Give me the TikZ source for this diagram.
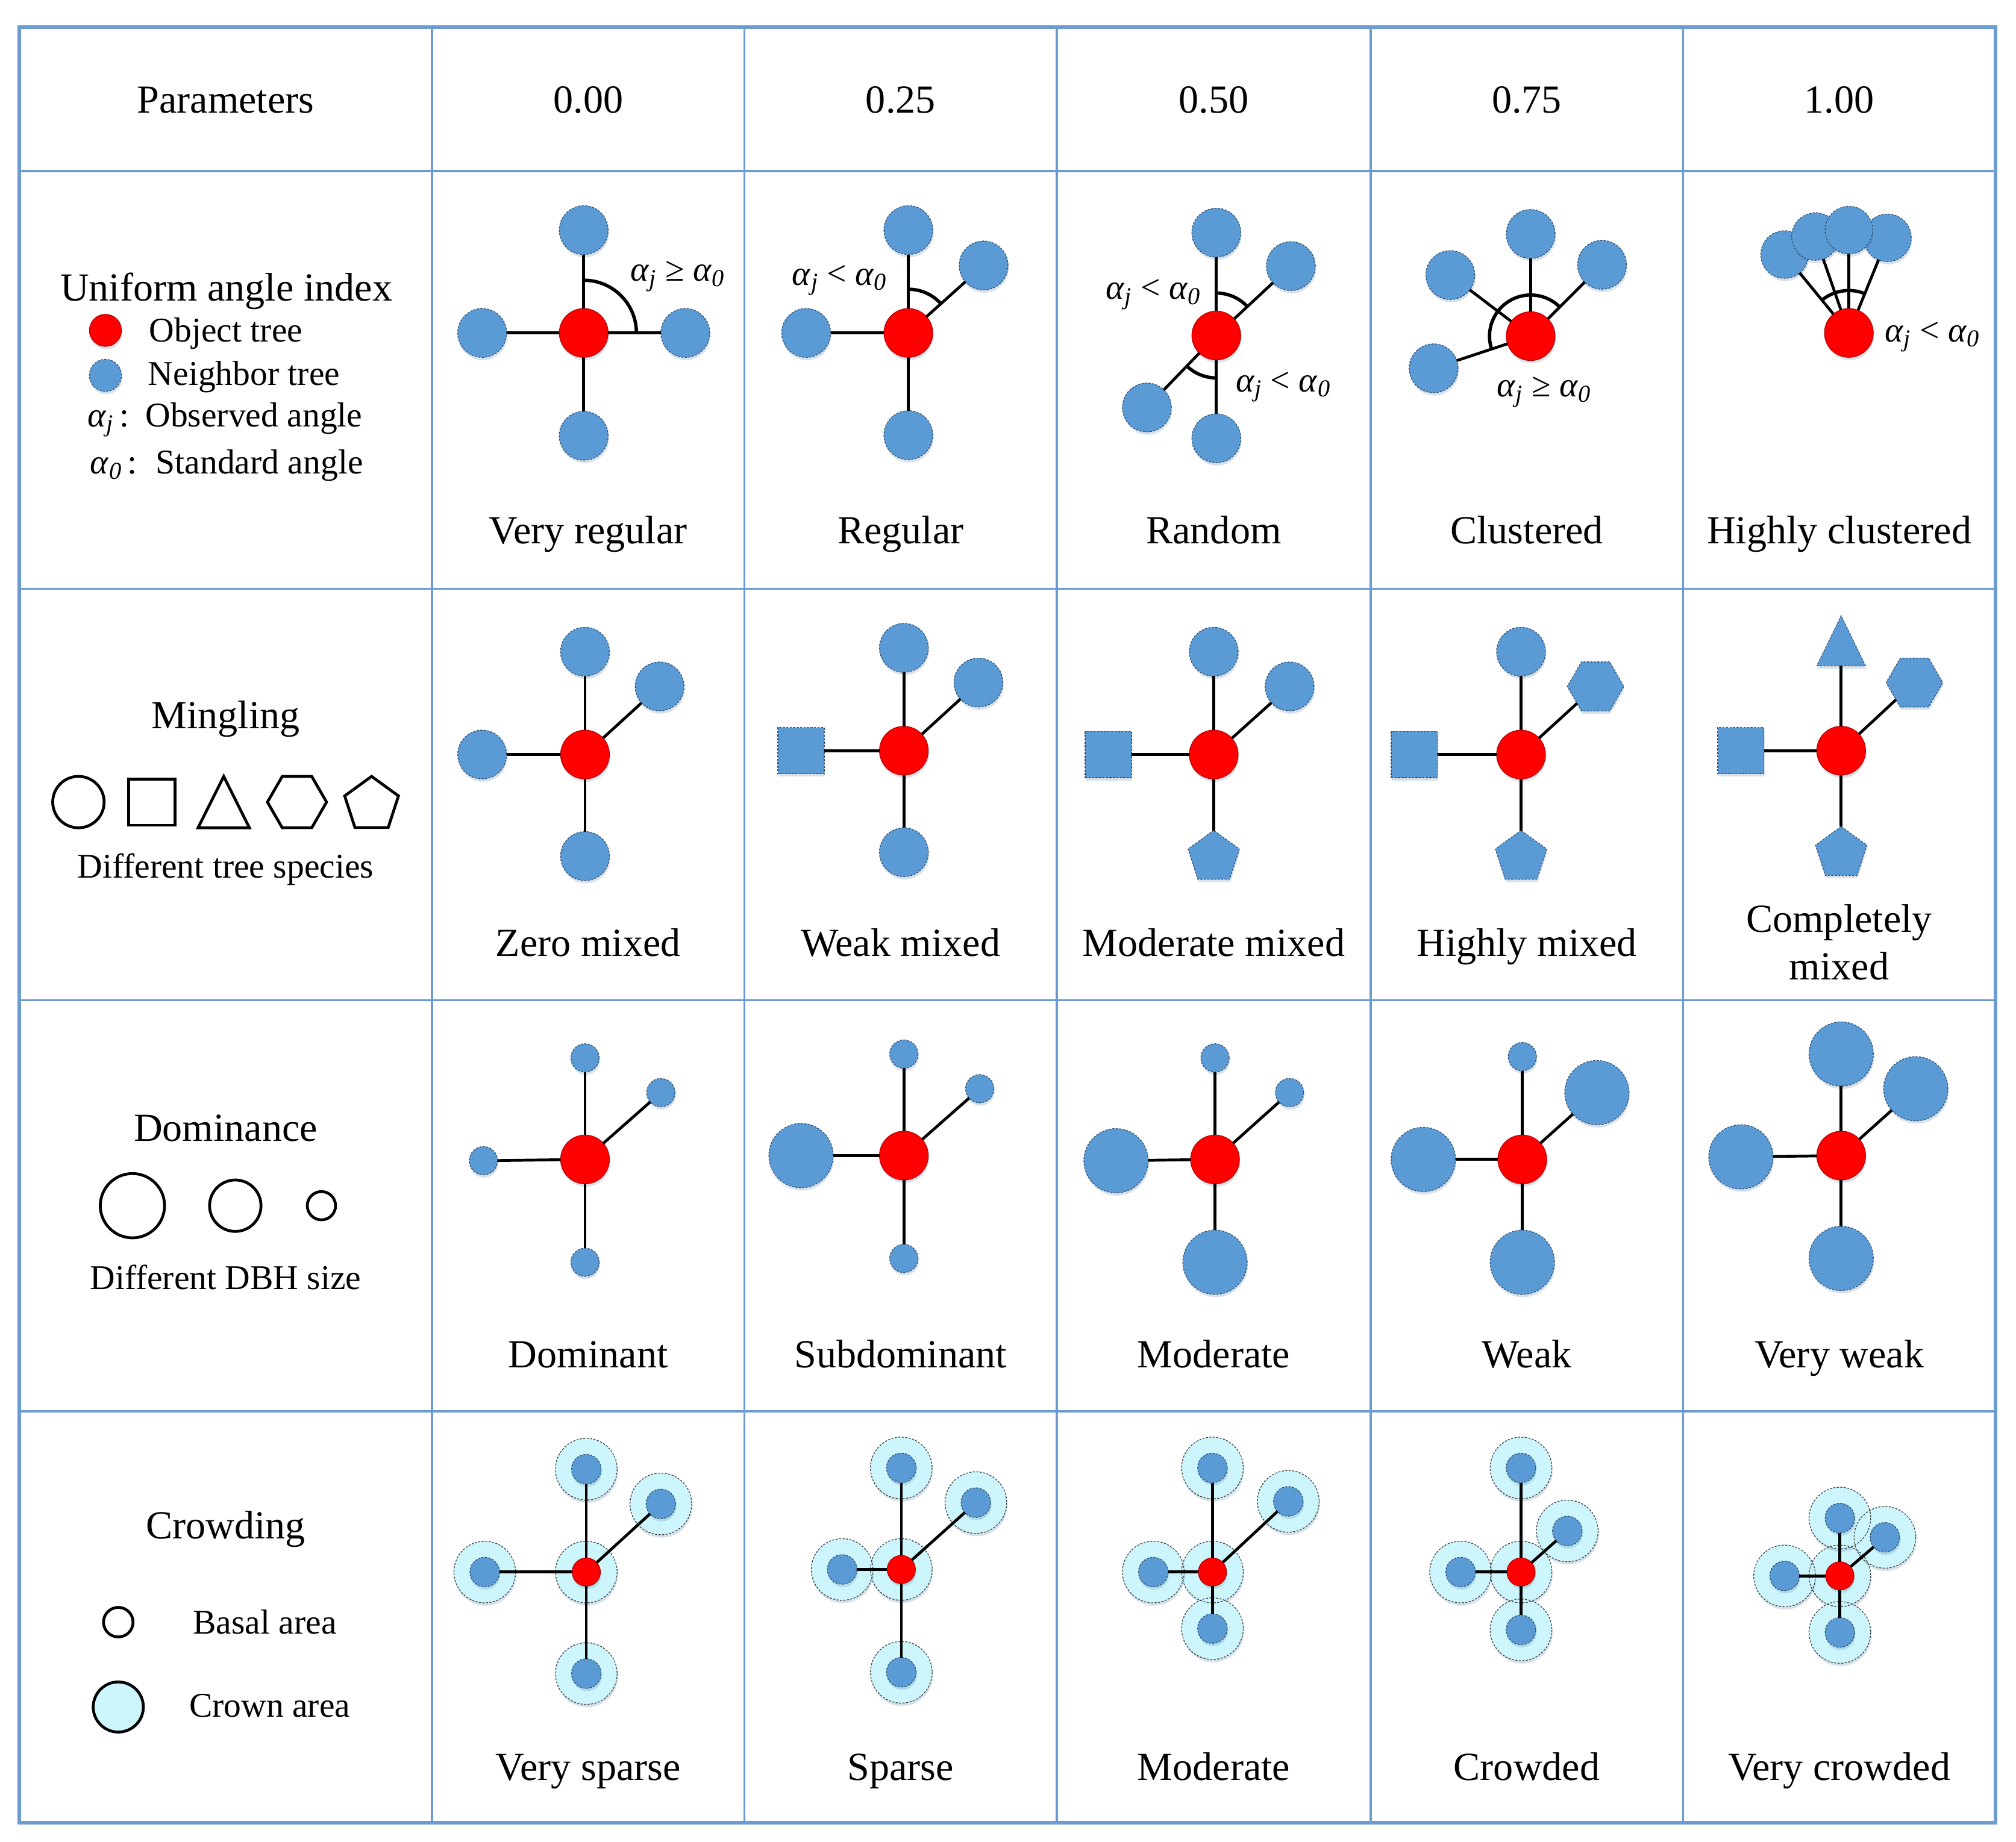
\documentclass[tikz,border=0pt]{standalone}
\usepackage{fontspec}
\setmainfont{Liberation Serif}
\usetikzlibrary{shapes.geometric,shadows}
\definecolor{gridc}{HTML}{6C9BD2}
\definecolor{nbblue}{HTML}{5B9BD5}
\definecolor{nbedge}{HTML}{2E4F73}
\definecolor{objred}{HTML}{FF0000}
\definecolor{objedge}{HTML}{B00000}
\definecolor{crownc}{HTML}{CCF6FC}
\newcommand{\aj}{\textit{α}\textsubscript{\textit{j}}}
\newcommand{\azero}{\textit{α}\textsubscript{\textit{0}}}
\tikzset{
 txt/.style={inner sep=0pt, text=black},
 lbl/.style={txt, font=\fontsize{31}{36}\selectfont, text height=21pt, text depth=7pt},
 leg/.style={txt, font=\fontsize{27}{32}\selectfont, text height=18pt, text depth=6pt},
 mlbl/.style={txt, font=\fontsize{27}{32}\selectfont},
 mleg/.style={txt, font=\fontsize{27}{32}\selectfont},
 shadowed/.style={drop shadow={shadow xshift=0.6pt, shadow yshift=-2.2pt, opacity=0.2, fill=nbblue!70!black}},
 shp/.style={inner sep=0pt, outer sep=0pt, fill=nbblue, draw=nbedge, line width=0.6pt, dash pattern=on 1.6pt off 1.1pt, shadowed},
 nb/.style={shp, circle, minimum size=38pt},
 nbs/.style={shp, circle, minimum size=22pt},
 nbl/.style={shp, circle, minimum size=50pt},
 obj/.style={circle, inner sep=0pt, outer sep=0pt, minimum size=38pt, fill=objred, draw=objedge, line width=0.5pt, shadowed},
 sqr/.style={shp, rectangle, minimum size=36pt},
 hexa/.style={shp, regular polygon, regular polygon sides=6, minimum size=44pt},
 penta/.style={shp, regular polygon, regular polygon sides=5, minimum size=42pt},
 tribox/.style={rectangle, inner sep=0pt, outer sep=0pt, minimum width=38pt, minimum height=39pt},
 trifill/.style={fill=nbblue, draw=nbedge, line width=0.6pt, dash pattern=on 1.6pt off 1.1pt, shadowed},
 link/.style={draw=black, line width=2.2pt},
 ang/.style={draw=black, line width=2.6pt},
 outl/.style={draw=black, line width=2.2pt, inner sep=0pt, outer sep=0pt, fill=white},
 crown/.style={circle, inner sep=0pt, minimum size=48pt, fill=crownc, shadowed},
 crownline/.style={draw=black!75, line width=0.6pt, dash pattern=on 1.6pt off 1.1pt},
 basal/.style={shp, circle, minimum size=23pt},
 objs/.style={obj, minimum size=22pt},
 gridin/.style={draw=gridc, line width=1.6pt},
 gridout/.style={draw=gridc, line width=2.8pt},
}
\begin{document}
\begin{tikzpicture}[x=1pt,y=-1pt]
\useasboundingbox (0,0) rectangle (1568,1433);
\fill[white] (0,0) rectangle (1568,1433);
% grid
\foreach \x in {336,579,822,1066,1309} \draw[gridin] (\x,21) -- (\x,1418);
\foreach \y in {133,458,778,1098} \draw[gridin] (15,\y) -- (1552,\y);
\draw[gridout] (15,21) rectangle (1552,1418);
% header
\node[lbl] (hpar) at (175.5,81) {Parameters};
\node[lbl] (h0) at (457.5,81) {0.00};
\node[lbl] (h1) at (700.5,81) {0.25};
\node[lbl] (h2) at (944,81) {0.50};
\node[lbl] (h3) at (1187.5,81) {0.75};
\node[lbl] (h4) at (1430.5,81) {1.00};
% ---------- row 1: uniform angle index ----------
\node[lbl] (uai) at (176,227) {Uniform angle index};
\node[obj, minimum size=25pt] (legobj) at (82,257) {};
\node[nb, minimum size=25pt] (legnb) at (82,292) {};
\node[leg, anchor=base west] (tobj) at (116,266) {Object tree};
\node[leg, anchor=base west] (tnb) at (115,299.5) {Neighbor tree};
\node[mleg, anchor=base west] (laj) at (68,332) {\aj\,:};
\node[leg, anchor=base west] (tobs) at (113,332) {Observed angle};
\node[mleg, anchor=base west] (la0) at (70,368.6) {\azero\,:};
\node[leg, anchor=base west] (tstd) at (121,368.6) {Standard angle};
% col 1
\node[obj] (a1c) at (454,259) {};
\node[nb] (a1t) at (454,179) {};
\node[nb] (a1l) at (375,259) {};
\node[nb] (a1r) at (533,259) {};
\node[nb] (a1b) at (454,339) {};
\foreach \n in {a1t,a1l,a1r,a1b} \draw[link] (a1c) -- (\n);
\draw[ang] (a1c.center) ++(0:41) arc[start angle=0, end angle=-90, radius=41];
\node[mlbl] (a1m) at (527,215) {\aj{} ≥ \azero};
\node[lbl] (a1x) at (457.5,416) {Very regular};
% col 2
\node[obj] (a2c) at (706.5,259) {};
\node[nb] (a2t) at (706.5,179) {};
\node[nb] (a2u) at (765,206.5) {};
\node[nb] (a2l) at (627,259) {};
\node[nb] (a2b) at (706.5,338.5) {};
\foreach \n in {a2t,a2u,a2l,a2b} \draw[link] (a2c) -- (\n);
\draw[ang] (a2c.center) ++(-41.9:34) arc[start angle=-41.9, end angle=-90, radius=34];
\node[mlbl] (a2m) at (653,218) {\aj{} < \azero};
\node[lbl] (a2x) at (700.5,416) {Regular};
% col 3
\node[obj] (a3c) at (946,261) {};
\node[nb] (a3t) at (946,181) {};
\node[nb] (a3u) at (1004,207) {};
\node[nb] (a3d) at (892,317) {};
\node[nb] (a3b) at (946,341) {};
\foreach \n in {a3t,a3u,a3d,a3b} \draw[link] (a3c) -- (\n);
\draw[ang] (a3c.center) ++(-43:33) arc[start angle=-43, end angle=-90, radius=33];
\draw[ang] (a3c.center) ++(-226:33) arc[start angle=-226, end angle=-270, radius=33];
\node[mlbl] (a3m) at (897,229) {\aj{} < \azero};
\node[mlbl] (a3n) at (998,301) {\aj{} < \azero};
\node[lbl] (a3x) at (944,416) {Random};
% col 4
\node[obj] (a4c) at (1190.5,261.5) {};
\node[nb] (a4t) at (1190.5,182) {};
\node[nb] (a4u) at (1246,206) {};
\node[nb] (a4v) at (1128,214) {};
\node[nb] (a4d) at (1115,286.5) {};
\foreach \n in {a4t,a4u,a4v,a4d} \draw[link] (a4c) -- (\n);
\draw[ang] (a4c.center) ++(-45:32) arc[start angle=-45, end angle=-198.3, radius=32];
\node[mlbl] (a4m) at (1201,305) {\aj{} ≥ \azero};
\node[lbl] (a4x) at (1187.5,416) {Clustered};
% col 5
\node[obj] (a5c) at (1438,259) {};
\node[nb, minimum size=37pt] (a5n1) at (1388,198) {};
\node[nb, minimum size=37pt] (a5n2) at (1412,184) {};
\node[nb, minimum size=37pt] (a5n4) at (1468,185) {};
\node[nb, minimum size=37pt] (a5n3) at (1438,179) {};
\foreach \n in {a5n1,a5n2,a5n3,a5n4} \draw[link] (a5c) -- (\n);
\draw[ang] (a5c.center) ++(-67.9:33) arc[start angle=-67.9, end angle=-129.3, radius=33];
\node[mlbl] (a5m) at (1503,262) {\aj{} < \azero};
\node[lbl] (a5x) at (1430.5,416) {Highly clustered};
% ---------- row 2: mingling ----------
\node[lbl] (ming) at (175.5,560) {Mingling};
\node[outl, circle, minimum size=40pt] (lgc) at (61,624) {};
\node[outl, rectangle, minimum size=36pt] (lgs) at (118,624) {};
\node[tribox, minimum width=40pt, minimum height=40pt] (lgt) at (174,624) {};
\draw[draw=black, line width=2.2pt, line join=miter] (lgt.south west) -- (lgt.south east) -- (lgt.north) -- cycle;
\node[outl, regular polygon, regular polygon sides=6, minimum size=46pt] (lgh) at (231,624) {};
\node[outl, regular polygon, regular polygon sides=5, minimum size=44pt] (lgp) at (289,626) {};
\node[leg] (spec) at (175.5,677) {Different tree species};
% col 1
\node[obj] (m1c) at (455,587) {};
\node[nb] (m1t) at (455,507) {};
\node[nb] (m1u) at (513,534) {};
\node[nb] (m1l) at (375,587) {};
\node[nb] (m1b) at (455,666) {};
\foreach \n in {m1t,m1u,m1l,m1b} \draw[link] (m1c) -- (\n);
\node[lbl] (m1x) at (457.5,737) {Zero mixed};
% col 2
\node[obj] (m2c) at (703,584) {};
\node[nb] (m2t) at (703,504) {};
\node[nb] (m2u) at (761,531) {};
\node[sqr] (m2l) at (623,584) {};
\node[nb] (m2b) at (703,663) {};
\foreach \n in {m2t,m2u,m2l,m2b} \draw[link] (m2c) -- (\n);
\node[lbl] (m2x) at (700.5,737) {Weak mixed};
% col 3
\node[obj] (m3c) at (944,587) {};
\node[nb] (m3t) at (944,507) {};
\node[nb] (m3u) at (1003,534) {};
\node[sqr] (m3l) at (862,587) {};
\node[penta] (m3b) at (944,667) {};
\foreach \n in {m3t,m3u,m3l,m3b} \draw[link] (m3c) -- (\n);
\node[lbl] (m3x) at (944,737) {Moderate mixed};
% col 4
\node[obj] (m4c) at (1183,587) {};
\node[nb] (m4t) at (1183,507) {};
\node[hexa] (m4u) at (1241,534) {};
\node[sqr] (m4l) at (1100,587) {};
\node[penta] (m4b) at (1183,667) {};
\foreach \n in {m4t,m4u,m4l,m4b} \draw[link] (m4c) -- (\n);
\node[lbl] (m4x) at (1187.5,737) {Highly mixed};
% col 5
\node[obj] (m5c) at (1432,584) {};
\node[tribox] (m5t) at (1432,498.5) {};
\path[trifill] (m5t.south west) -- (m5t.south east) -- (m5t.north) -- cycle;
\node[hexa] (m5u) at (1489,531) {};
\node[sqr] (m5l) at (1354,584) {};
\node[penta] (m5b) at (1432,664) {};
\foreach \n in {m5t,m5u,m5l,m5b} \draw[link] (m5c) -- (\n);
\node[lbl] (m5x) at (1430.5,718) {Completely};
\node[lbl] (m5y) at (1430.5,755) {mixed};
% ---------- row 3: dominance ----------
\node[lbl] (dom) at (175.5,881) {Dominance};
\node[outl, circle, minimum size=50pt] (lgd1) at (103,938) {};
\node[outl, circle, minimum size=40pt] (lgd2) at (183,938) {};
\node[outl, circle, minimum size=22pt] (lgd3) at (250,938) {};
\node[leg] (dbh) at (175.5,997) {Different DBH size};
% col 1
\node[obj] (d1c) at (455,902) {};
\node[nbs] (d1t) at (455,823) {};
\node[nbs] (d1u) at (514,850) {};
\node[nbs] (d1l) at (376,903) {};
\node[nbs] (d1b) at (455,982) {};
\foreach \n in {d1t,d1u,d1l,d1b} \draw[link] (d1c) -- (\n);
\node[lbl] (d1x) at (457.5,1057) {Dominant};
% col 2
\node[obj] (d2c) at (703,899) {};
\node[nbs] (d2t) at (703,820) {};
\node[nbs] (d2u) at (762,847) {};
\node[nbl] (d2l) at (623,899) {};
\node[nbs] (d2b) at (703,979) {};
\foreach \n in {d2t,d2u,d2l,d2b} \draw[link] (d2c) -- (\n);
\node[lbl] (d2x) at (700.5,1057) {Subdominant};
% col 3
\node[obj] (d3c) at (945,902) {};
\node[nbs] (d3t) at (945,823) {};
\node[nbs] (d3u) at (1003,850) {};
\node[nbl] (d3l) at (868,903) {};
\node[nbl] (d3b) at (945,982) {};
\foreach \n in {d3t,d3u,d3l,d3b} \draw[link] (d3c) -- (\n);
\node[lbl] (d3x) at (944,1057) {Moderate};
% col 4
\node[obj] (d4c) at (1184,902) {};
\node[nbs] (d4t) at (1184,822) {};
\node[nbl] (d4u) at (1242,850) {};
\node[nbl] (d4l) at (1107,902) {};
\node[nbl] (d4b) at (1184,982) {};
\foreach \n in {d4t,d4u,d4l,d4b} \draw[link] (d4c) -- (\n);
\node[lbl] (d4x) at (1187.5,1057) {Weak};
% col 5
\node[obj] (d5c) at (1432,899) {};
\node[nbl] (d5t) at (1432,820) {};
\node[nbl] (d5u) at (1490,847) {};
\node[nbl] (d5l) at (1354,900) {};
\node[nbl] (d5b) at (1432,979) {};
\foreach \n in {d5t,d5u,d5l,d5b} \draw[link] (d5c) -- (\n);
\node[lbl] (d5x) at (1430.5,1057) {Very weak};
% ---------- row 4: crowding ----------
\node[lbl] (crowd) at (175.5,1190) {Crowding};
\node[outl, circle, minimum size=23pt] (lgb) at (92,1262) {};
\node[outl, circle, minimum size=39pt, fill=crownc] (lgcr) at (92,1328) {};
\node[leg, anchor=base west] (tbasal) at (150,1271) {Basal area};
\node[leg, anchor=base west] (tcrown) at (147,1336) {Crown area};
% crowns
\foreach \p/\xy in {c1c/{456,1223},c1t/{456,1143},c1u/{514,1170},c1l/{377,1223},c1b/{456,1302},
                    c2c/{701,1221},c2t/{701,1142},c2u/{759,1169},c2l/{655,1221},c2b/{701,1301},
                    c3c/{943,1223},c3t/{943,1142},c3u/{1002,1168},c3l/{897,1223},c3b/{943,1267},
                    c4c/{1183,1223},c4t/{1183,1142},c4u/{1219,1191},c4l/{1136,1223},c4b/{1183,1268},
                    c5c/{1431,1226},c5t/{1431,1181},c5u/{1466,1196},c5l/{1388,1226},c5b/{1431,1270}}
  \node[crown] (k\p) at (\xy) {};
\foreach \p in {c1c,c1t,c1u,c1l,c1b,c2c,c2t,c2u,c2l,c2b,c3c,c3t,c3u,c3l,c3b,c4c,c4t,c4u,c4l,c4b,c5c,c5t,c5u,c5l,c5b}
  \draw[crownline] (k\p.center) circle[radius=24];
% basal and object trees
\foreach \i in {1,...,5}{
  \node[objs] (c\i o) at (kc\i c) {};
  \foreach \s in {t,u,l,b}{
    \node[basal] (c\i\s) at (kc\i\s) {};
    \draw[link] (c\i o) -- (c\i\s);
  }
}
\node[lbl] (c1x) at (457.5,1378) {Very sparse};
\node[lbl] (c2x) at (700.5,1378) {Sparse};
\node[lbl] (c3x) at (944,1378) {Moderate};
\node[lbl] (c4x) at (1187.5,1378) {Crowded};
\node[lbl] (c5x) at (1430.5,1378) {Very crowded};
\end{tikzpicture}
\end{document}
